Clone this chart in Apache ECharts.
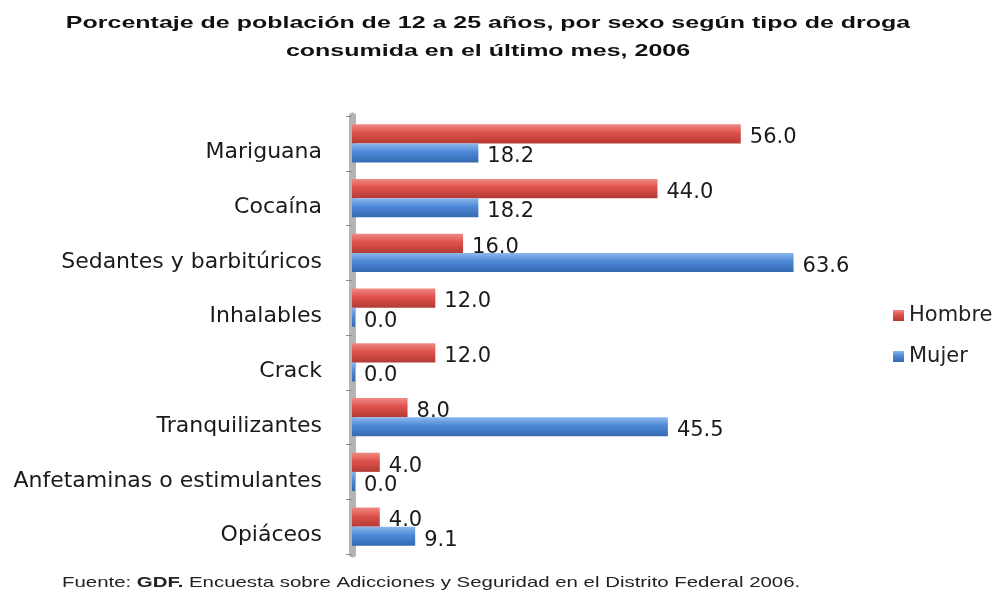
<!DOCTYPE html>
<html>
<head>
    <meta charset="UTF-8">
    <title>Consumo de drogas por sexo, 2006</title>
    <script src="https://cdn.jsdelivr.net/npm/echarts@6/dist/echarts.min.js"></script>
    <style>
        html, body { margin: 0; padding: 0; background: #fff; }
    </style>
</head>
<body>
    <div id="main" style="width: 999px; height: 598px;"></div>

    <script>
        // Datos (orden de arriba hacia abajo en la imagen)
        var drogas = ['Mariguana', 'Cocaína', 'Sedantes y barbitúricos', 'Inhalables',
                      'Crack', 'Tranquilizantes', 'Anfetaminas o estimulantes', 'Opiáceos'];
        var hombre = [56.0, 44.0, 16.0, 12.0, 12.0, 8.0, 4.0, 4.0];
        var mujer = [18.2, 18.2, 63.6, 0.0, 0.0, 45.5, 0.0, 9.1];

        var titulo1 = 'Porcentaje de población de 12 a 25 años, por sexo según tipo de droga';
        var titulo2 = 'consumida en el último mes, 2006';

        var myChart = echarts.init(document.getElementById('main'));

        function grad(c1, c2, c3) {
            return new echarts.graphic.LinearGradient(0, 0, 0, 1, [
                { offset: 0, color: c1 },
                { offset: 0.45, color: c2 },
                { offset: 1, color: c3 }
            ]);
        }

        var labelStyle = {
            show: true,
            position: 'right',
            distance: 9,
            offset: [0, 4],
            fontFamily: 'DejaVu Sans',
            fontSize: 21,
            color: '#1a1a1a',
            formatter: function (p) { return p.value.toFixed(1); }
        };

        // texto ancho (la imagen original esta estirada en horizontal)
        function wideText(txt, x, y, size, bold, align, sx) {
            return {
                type: 'text',
                x: x,
                y: y,
                scaleX: sx,
                style: {
                    text: txt,
                    x: 0,
                    y: 0,
                    align: align,
                    verticalAlign: 'middle',
                    fontFamily: 'Liberation Sans',
                    fontSize: size,
                    fontWeight: bold ? 'bold' : 'normal',
                    fill: '#111'
                }
            };
        }

        var option = {
            backgroundColor: '#ffffff',
            legend: {
                orient: 'vertical',
                left: 888,
                top: 300,
                itemWidth: 11,
                itemHeight: 11,
                itemGap: 20,
                icon: 'rect',
                textStyle: {
                    fontFamily: 'DejaVu Sans',
                    fontSize: 21,
                    color: '#222'
                },
                data: ['Hombre', 'Mujer']
            },
            grid: {
                left: 352,
                right: 161,
                top: 116,
                bottom: 44
            },
            xAxis: {
                type: 'value',
                min: 0,
                max: 70,
                show: false
            },
            yAxis: {
                type: 'category',
                inverse: true,
                data: drogas,
                offset: 4,
                axisLine: {
                    show: true,
                    lineStyle: { color: '#b4b4b4', width: 7 }
                },
                axisTick: {
                    show: true,
                    length: 6,
                    lineStyle: { color: '#8c8c8c', width: 1 }
                },
                axisLabel: {
                    margin: 26,
                    verticalAlign: 'top',
                    lineHeight: 18,
                    fontFamily: 'DejaVu Sans',
                    fontSize: 22,
                    color: '#1a1a1a'
                }
            },
            series: [
                {
                    name: 'Hombre',
                    type: 'bar',
                    data: hombre,
                    barGap: '0%',
                    barCategoryGap: '30%',
                    barMinHeight: 3,
                    itemStyle: {
                        color: grad('#ef8a84', '#de514b', '#b43a35')
                    },
                    label: labelStyle
                },
                {
                    name: 'Mujer',
                    type: 'bar',
                    data: mujer,
                    barMinHeight: 3,
                    itemStyle: {
                        color: grad('#8fb8ec', '#4c88d8', '#3569b0')
                    },
                    label: labelStyle
                }
            ],
            graphic: [
                wideText(titulo1, 488, 23, 17, true, 'center', 1.47),
                wideText(titulo2, 488, 51, 17, true, 'center', 1.47),
                {
                    type: 'text',
                    x: 62,
                    y: 583,
                    scaleX: 1.36,
                    style: {
                        text: '{n|Fuente: }{b|GDF.}{n| Encuesta sobre Adicciones y Seguridad en el Distrito Federal 2006.}',
                        x: 0,
                        y: 0,
                        verticalAlign: 'middle',
                        rich: {
                            n: { fontFamily: 'Liberation Sans', fontSize: 15, fill: '#222' },
                            b: { fontFamily: 'Liberation Sans', fontSize: 15, fontWeight: 'bold', fill: '#222' }
                        }
                    }
                }
            ]
        };

        myChart.setOption(option);
    </script>
</body>
</html>
